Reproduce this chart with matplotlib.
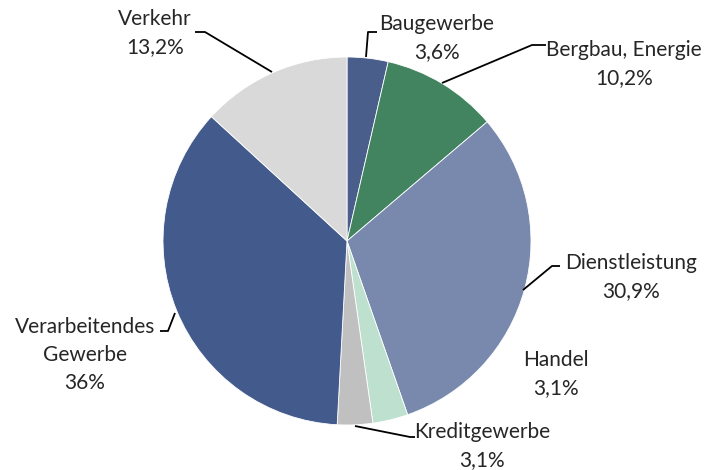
import matplotlib
matplotlib.use("Agg")
import matplotlib.pyplot as plt

categories = ["Baugewerbe", "Bergbau, Energie", "Dienstleistung", "Handel",
              "Kreditgewerbe", "Verarbeitendes\nGewerbe", "Verkehr"]
values = [3.6, 10.2, 30.9, 3.1, 3.1, 36.0, 13.2]
value_labels = ["3,6%", "10,2%", "30,9%", "3,1%", "3,1%", "36%", "13,2%"]
colors = ["#4a5e8c", "#41845f", "#7889ad", "#bde0cf", "#c0c0c0", "#435a8c", "#d9d9d9"]

W, H = 711, 470
fig = plt.figure(figsize=(W / 100, H / 100), dpi=100)
ax = fig.add_axes([0, 0, 1, 1])

ax.pie(values, colors=colors, startangle=90, counterclock=False,
       center=(347, H - 241), radius=184, frame=False,
       wedgeprops=dict(edgecolor="white", linewidth=0.6))
ax.set_xlim(0, W)
ax.set_ylim(0, H)
ax.set_aspect("equal")
ax.axis("off")

font = dict(family="Lato", fontsize=15, color="#262626", ha="center", va="center",
            linespacing=1.5)

# label text positions (pixel coords, y from top)
text_pos = [(437, 38), (624, 64), (631, 277), (556, 374), (482, 446), (85, 355), (155, 33)]
# leader lines (pixel coords, y from top); None = no leader
leaders = [
    [(366, 57), (368, 32), (377, 32)],
    [(442, 83), (532, 45), (546, 45)],
    [(523, 290), (552, 266), (560, 266)],
    None,
    [(355, 426), (410, 437), (415, 437)],
    [(175, 313), (168, 331), (160, 331)],
    [(272, 72), (205, 32), (195, 32)],
]

for cat, vl, (x, y), ld in zip(categories, value_labels, text_pos, leaders):
    ax.text(x, H - y, f"{cat}\n{vl}", **font)
    if ld:
        xs = [p[0] for p in ld]
        ys = [H - p[1] for p in ld]
        ax.plot(xs, ys, color="black", linewidth=1.3, solid_capstyle="butt")

fig.savefig("out.png", dpi=100)
